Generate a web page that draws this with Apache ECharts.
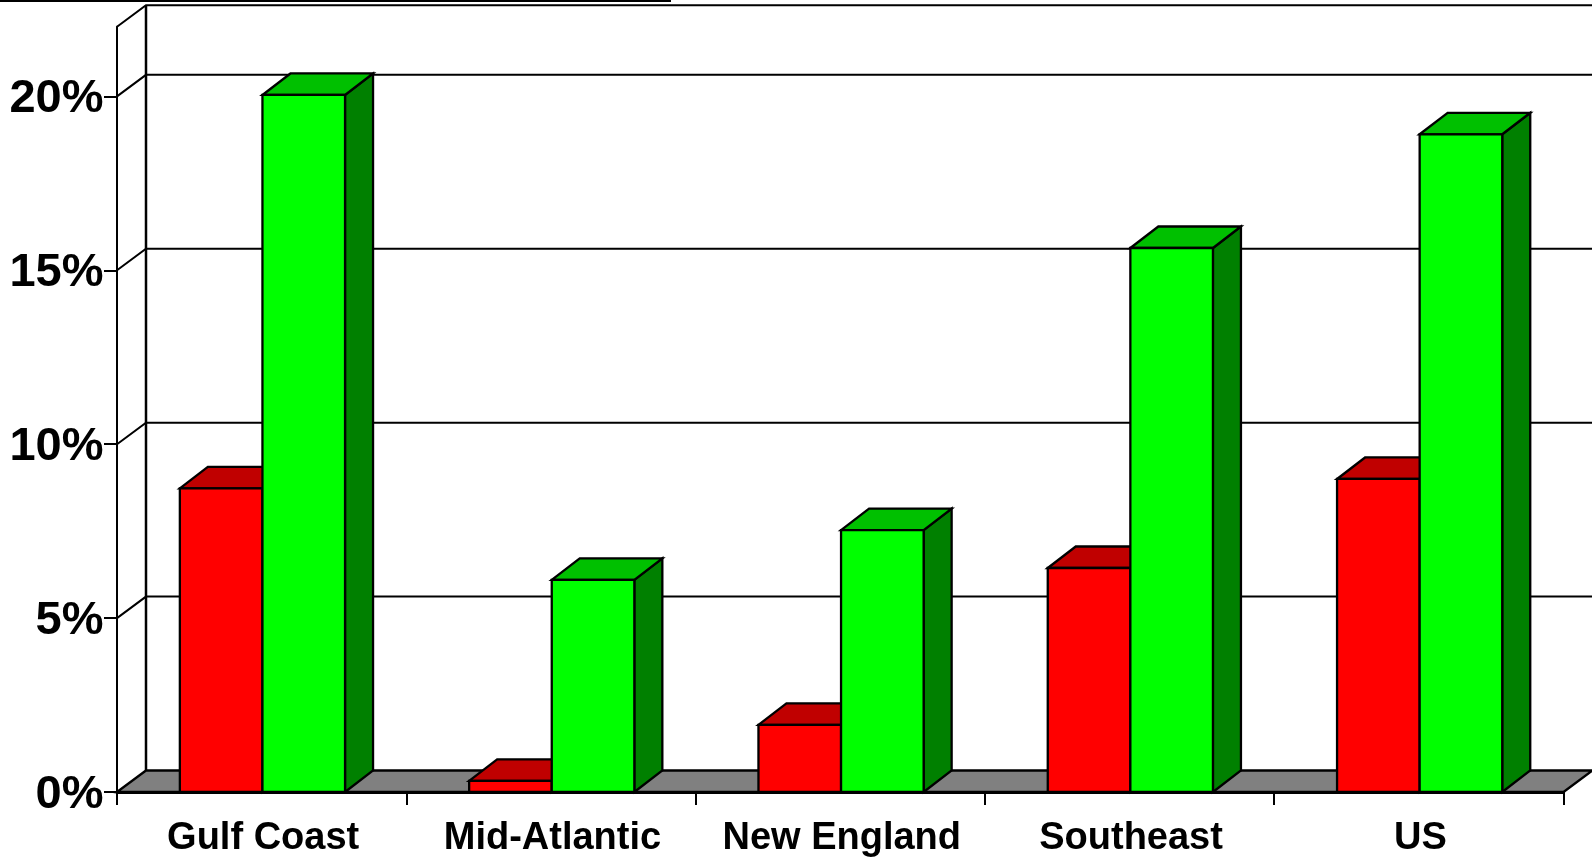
<!DOCTYPE html>
<html>
<head>
<meta charset="utf-8">
<title>Regional percentages</title>
<style>html,body{margin:0;padding:0;background:#fff}#chart{width:1592px;height:857px}</style>
<script src="https://cdn.jsdelivr.net/npm/echarts@6/dist/echarts.min.js"></script>
</head>
<body>
<div id="chart"></div>
<script>
// Chart values
const categories = ['Gulf Coast', 'Mid-Atlantic', 'New England', 'Southeast', 'US'];
const redValues = [8.73, 0.32, 1.93, 6.44, 9.0];
const greenValues = [20.04, 6.1, 7.53, 15.64, 18.91];
const yTicks = [0, 5, 10, 15, 20];
const yMax = 22;

// Oblique projection of the room and of the boxes
const WALL_DEPTH_X = 29;
const BOX_DEPTH_X = 28;
const DEPTH_Y = -21.5;
const BAR_SHARE = 0.2855;
const BAR_SHIFT = 0.8;
const LINE = { stroke: '#000', lineWidth: 2.3, lineJoin: 'miter' };

const chart = echarts.init(document.getElementById('chart'), null, { renderer: 'canvas' });

const poly = (points, fill) => ({
  type: 'polygon',
  shape: { points },
  style: Object.assign({}, LINE, { fill })
});

// Back wall guide lines running from the front edge around the corner
function renderWallLine(params, api) {
  const p = api.coord([0, api.value(0)]);
  const band = api.size([1, 0])[0];
  const x0 = p[0] - band / 2;
  const xEnd = x0 + band * categories.length + WALL_DEPTH_X;
  return {
    type: 'polyline',
    shape: { points: [[x0, p[1]], [x0 + WALL_DEPTH_X, p[1] + DEPTH_Y], [xEnd, p[1] + DEPTH_Y]] },
    style: { stroke: '#000', lineWidth: 2, fill: null }
  };
}

// Floor slab and the vertical back corner
function renderFloor(params, api) {
  const p = api.coord([0, 0]);
  const top = api.coord([0, yMax]);
  const band = api.size([1, 0])[0];
  const x0 = p[0] - band / 2;
  const x1 = x0 + band * categories.length;
  return {
    type: 'group',
    children: [
      poly([[x0, p[1]], [x0 + WALL_DEPTH_X, p[1] + DEPTH_Y], [x1 + WALL_DEPTH_X, p[1] + DEPTH_Y], [x1, p[1]]], '#808080'),
      {
        type: 'line',
        shape: { x1: x0 + WALL_DEPTH_X, y1: p[1] + DEPTH_Y, x2: x0 + WALL_DEPTH_X, y2: top[1] + DEPTH_Y },
        style: { stroke: '#000', lineWidth: 2.5 }
      }
    ]
  };
}

// A box drawn from its category and value: front face, lid and right side
function boxRenderer(offset, front, lid, side) {
  return function (params, api) {
    const idx = api.value(0);
    const band = api.size([1, 0])[0];
    const w = band * BAR_SHARE;
    const topPt = api.coord([idx, api.value(1)]);
    const basePt = api.coord([idx, 0]);
    const xl = topPt[0] + offset * w + BAR_SHIFT;
    const xr = xl + w;
    const yt = topPt[1];
    const yb = basePt[1];
    return {
      type: 'group',
      children: [
        poly([[xr, yb], [xr + BOX_DEPTH_X, yb + DEPTH_Y], [xr + BOX_DEPTH_X, yt + DEPTH_Y], [xr, yt]], side),
        poly([[xl, yt], [xl + BOX_DEPTH_X, yt + DEPTH_Y], [xr + BOX_DEPTH_X, yt + DEPTH_Y], [xr, yt]], lid),
        poly([[xl, yb], [xl, yt], [xr, yt], [xr, yb]], front)
      ]
    };
  };
}

chart.setOption({
  animation: false,
  backgroundColor: '#fff',
  grid: { left: 117, right: 28.5, top: 26.8, bottom: 65, outerBoundsMode: 'none' },
  graphic: [{
    type: 'rect',
    shape: { x: 0, y: 0, width: 671, height: 2 },
    style: { fill: '#000' }
  }],
  xAxis: {
    type: 'category',
    data: categories,
    axisLine: { lineStyle: { color: '#000', width: 3 } },
    axisTick: { show: true, length: 13, lineStyle: { color: '#000', width: 2 } },
    axisLabel: {
      margin: 28,
      interval: 0,
      formatter: v => `{cat|${v}}`,
      rich: {
        cat: {
          color: '#000',
          fontFamily: 'Liberation Sans',
          fontWeight: 'bold',
          fontSize: 38,
          padding: [0, 0, 0, 3]
        }
      }
    },
    splitLine: { show: false }
  },
  yAxis: {
    type: 'value',
    min: 0,
    max: yMax,
    axisLine: { show: true, lineStyle: { color: '#000', width: 2 } },
    axisTick: { show: true, length: 13, customValues: yTicks, lineStyle: { color: '#000', width: 2 } },
    axisLabel: {
      margin: 13.5,
      customValues: yTicks,
      formatter: v => `{pct|${v}%}`,
      rich: {
        pct: {
          color: '#000',
          fontFamily: 'Liberation Sans',
          fontWeight: 'bold',
          fontSize: 47,
          padding: [6, 0, 0, 0]
        }
      }
    },
    splitLine: { show: false }
  },
  series: [
    {
      name: 'Wall lines',
      type: 'custom',
      z: 1,
      silent: true,
      data: yTicks.slice(1).concat([yMax]).map(v => [v]),
      encode: { y: 0 },
      renderItem: renderWallLine
    },
    {
      name: 'Floor',
      type: 'custom',
      z: 2,
      silent: true,
      data: [[0]],
      encode: { y: 0 },
      renderItem: renderFloor
    },
    {
      name: 'Red',
      type: 'custom',
      z: 3,
      data: redValues.map((v, i) => [i, v]),
      encode: { x: 0, y: 1 },
      renderItem: boxRenderer(-1, '#ff0000', '#c00000', '#800000')
    },
    {
      name: 'Green',
      type: 'custom',
      z: 4,
      data: greenValues.map((v, i) => [i, v]),
      encode: { x: 0, y: 1 },
      renderItem: boxRenderer(0, '#00ff00', '#00c000', '#008000')
    }
  ]
});
</script>
</body>
</html>
